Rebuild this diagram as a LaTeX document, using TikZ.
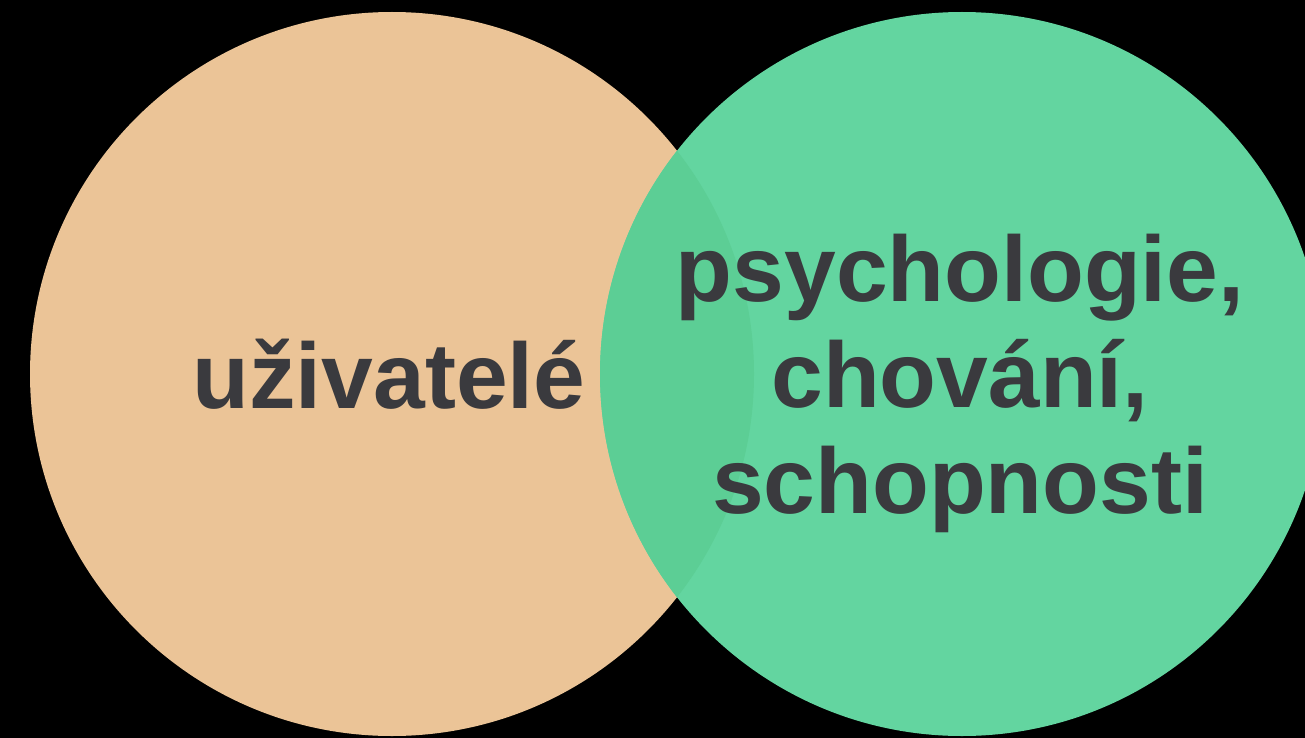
\documentclass[tikz,border=0pt]{standalone}
\usepackage{xcolor}
\definecolor{PeachSet}{HTML}{EBC497}
\definecolor{MintSet}{HTML}{63D5A0}
\definecolor{MintDeep}{HTML}{5CCE95}
\definecolor{InkGrey}{HTML}{3A3A3E}
\usepackage{fontspec}
\setmainfont{Liberation Sans}
\usepackage{tikz}
\usetikzlibrary{positioning}
\tikzstyle{set} = [circle, inner sep=0pt, outer sep=0pt, minimum size=724pt]
\tikzstyle{label} = [text=InkGrey, font=\bfseries\fontsize{93}{106}\selectfont, align=center, inner sep=0pt]

\begin{document}
\begin{tikzpicture}[x=1pt, y=-1pt]
        % Background
        \fill[black] (0,0) rectangle (1305,738);
        \useasboundingbox (0,0) rectangle (1305,738);

        % Sets
        \node [set, fill=PeachSet] (users) at (392,374) {};
        \node [set, fill=MintSet] (mind) at (962,374) {};
        \begin{scope}
            \clip (392,374) circle (362pt);
            \fill[MintDeep] (962,374) circle (362pt);
        \end{scope}

        % Labels
        \node [label, anchor=base] (usersText) at (389,408) {uživatelé};
        \node [label, anchor=base] (mindText) at (960,513) {psychologie,\\chování,\\schopnosti};
    \end{tikzpicture}
\end{document}
